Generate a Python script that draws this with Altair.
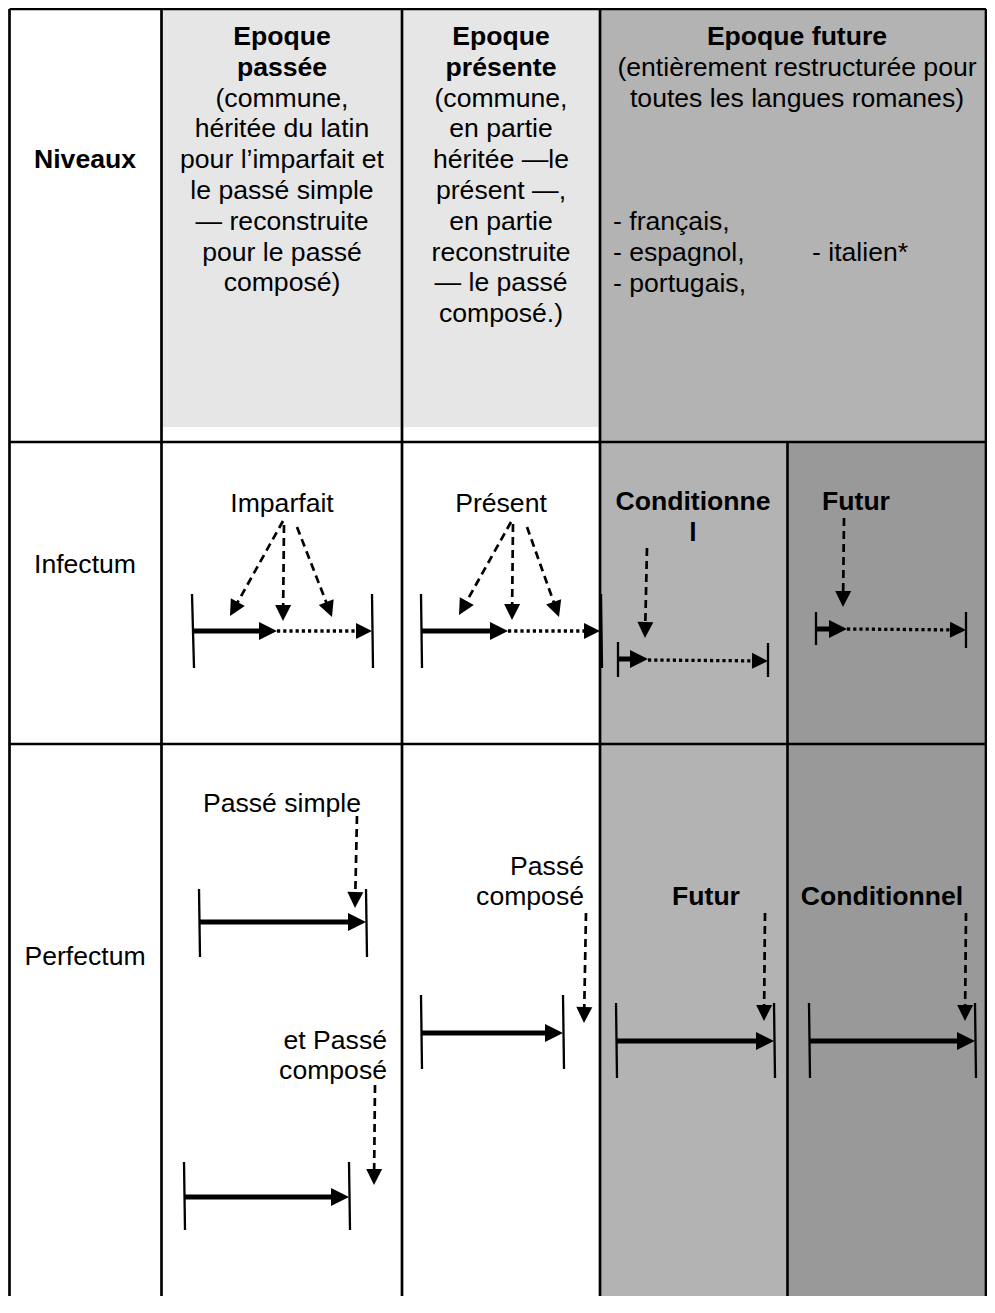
import altair as alt
import pandas as pd
import numpy as np

FONT = "Liberation Sans"
FS = 26.6

# ---------------- table structure (reference pixel units) ----------------
border_v = [9.5, 161.5, 402, 600, 986]      # full-height column borders
sub_border_x = 787.5                          # split of the future column (rows 2-3)
border_h = [9, 442, 744]                      # horizontal borders
table_left, table_right, table_bottom = 9.5, 986, 1313

# cell fills: (x, x2, y, y2, colour)
fills = [
    (163, 400.5, 9, 427, "#e6e6e6"),
    (403.5, 598.5, 9, 427, "#e6e6e6"),
    (601, 986, 9, 442, "#b3b3b3"),
    (601, 786.5, 442, 1313, "#b3b3b3"),
    (788.5, 986, 442, 1313, "#999999"),
]

# ---------------- texts ----------------
hdr_past = ["Epoque", "passée", "(commune,", "héritée du latin", "pour l’imparfait et",
            "le passé simple", "— reconstruite", "pour le passé", "composé)"]
hdr_present = ["Epoque", "présente", "(commune,", "en partie", "héritée —le",
               "présent —,", "en partie", "reconstruite", "— le passé", "composé.)"]
hdr_future = ["Epoque future", "(entièrement restructurée pour", "toutes les langues romanes)"]
langs_left = ["- français,", "- espagnol,", "- portugais,"]
lang_right = ["- italien*"]
row_labels = ["Infectum", "Perfectum"]

# ---------------- diagram elements: (x_start, y_start, x_tip, y_tip) ----------------
thick_arrows = [
    (193, 631, 277, 631),
    (421, 631, 508, 631),
    (619, 659, 648, 659),
    (817, 629, 847, 629),
    (200, 922, 366, 922),
    (185, 1197, 349, 1197),
    (421, 1033, 563, 1033),
    (616, 1041, 774, 1041),
    (809, 1041, 975, 1041),
]
dotted_arrows = [
    (277, 631, 372, 631),
    (508, 631, 600, 631),
    (648, 660, 768, 661),
    (847, 629, 966, 630),
]
dashed_arrows = [
    (283, 521, 230, 616),
    (284, 525, 283, 621),
    (297, 527, 332, 617),
    (511, 522, 459, 615),
    (513, 524, 512, 620),
    (527, 527, 559, 617),
    (647, 548, 645, 638),
    (844, 518, 843, 607),
    (357, 816, 355, 908),
    (375, 1085, 374, 1185),
    (586, 913, 584, 1023),
    (765, 913, 764, 1021),
    (966, 913, 965, 1021),
]
end_bars = [
    (192, 594, 194, 668), (372, 594, 373, 668),
    (421, 594, 422, 668), (601, 594, 602, 668),
    (618, 642, 618, 677), (768, 643, 768, 677),
    (816, 612, 816, 645), (966, 612, 966, 648),
    (199, 889, 200, 957), (366, 889, 367, 957),
    (184, 1162, 185, 1230), (349, 1162, 350, 1230),
    (421, 995, 422, 1069), (563, 995, 564, 1069),
    (616, 1003, 617, 1078), (774, 1003, 775, 1078),
    (809, 1003, 810, 1078), (975, 1003, 976, 1078),
]

# ---------------- build tables ----------------
X_DOM = [8, 987]
Y_DOM = [8, 1296]
W = X_DOM[1] - X_DOM[0]
H = Y_DOM[1] - Y_DOM[0]

xsc = alt.Scale(domain=X_DOM, nice=False, zero=False)
ysc = alt.Scale(domain=Y_DOM, nice=False, zero=False, reverse=True)


def enc_seg(ch):
    return ch.encode(
        x=alt.X("x:Q", scale=xsc, axis=None),
        y=alt.Y("y:Q", scale=ysc, axis=None),
        x2="x2:Q",
        y2="y2:Q",
    )


fill_df = pd.DataFrame(fills, columns=["x", "x2", "y", "y2", "fill"])

grid_rows = [(x, border_h[0], x, table_bottom) for x in border_v]
grid_rows.append((sub_border_x, border_h[1], sub_border_x, table_bottom))
grid_rows += [(table_left, y, table_right, y) for y in border_h]
grid_df = pd.DataFrame(grid_rows, columns=["x", "y", "x2", "y2"])

bars_df = pd.DataFrame(end_bars, columns=["x", "y", "x2", "y2"])

ARROW = "M0,0L-0.5,1L0.5,1Z"


def arrow_parts(segs, head_len):
    lines, heads = [], []
    for x0, y0, x1, y1 in segs:
        dx, dy = x1 - x0, y1 - y0
        n = np.hypot(dx, dy)
        ux, uy = dx / n, dy / n
        cut = head_len * 0.7
        lines.append((x0, y0, x1 - ux * cut, y1 - uy * cut))
        ang = (np.degrees(np.arctan2(dx, -dy)) + 360) % 360
        heads.append((x1, y1, float(ang), (2 * head_len) ** 2))
    return (pd.DataFrame(lines, columns=["x", "y", "x2", "y2"]),
            pd.DataFrame(heads, columns=["x", "y", "angle", "size"]))


thick_l, thick_h = arrow_parts(thick_arrows, 18)
dot_l, dot_h = arrow_parts(dotted_arrows, 16)
dash_l, dash_h = arrow_parts(dashed_arrows, 16)
heads_df = pd.concat([thick_h, dot_h, dash_h], ignore_index=True)

# text rows: (text, x, baseline y)
STEP = 30.8
bold_c, norm_c, norm_l, norm_r = [], [], [], []
for i, t in enumerate(hdr_past):
    (bold_c if i < 2 else norm_c).append((t, 282, 45 + i * STEP))
for i, t in enumerate(hdr_present):
    (bold_c if i < 2 else norm_c).append((t, 501, 45 + i * STEP))
for i, t in enumerate(hdr_future):
    (bold_c if i < 1 else norm_c).append((t, 797, 45 + i * STEP))
for i, t in enumerate(langs_left):
    norm_l.append((t, 613, 230 + i * STEP))
norm_l.append((lang_right[0], 812, 261))
bold_c.append(("Niveaux", 85, 168))
norm_c.append((row_labels[0], 85, 573))
norm_c.append((row_labels[1], 85, 965))
norm_c.append(("Imparfait", 282, 512))
norm_c.append(("Présent", 501, 512))
bold_c.append(("Conditionne", 693, 510))
bold_c.append(("l", 693, 541))
bold_c.append(("Futur", 856, 510))
norm_c.append(("Passé simple", 282, 812))
norm_r.append(("et Passé", 387, 1049))
norm_r.append(("composé", 387, 1079))
norm_r.append(("Passé", 584, 875))
norm_r.append(("composé", 584, 905))
bold_c.append(("Futur", 706, 905))
bold_c.append(("Conditionnel", 882, 905))


def text_layer(rows, align, weight):
    df = pd.DataFrame(rows, columns=["label", "x", "y"])
    return alt.Chart(df).mark_text(
        font=FONT, fontSize=FS, fontWeight=weight, align=align,
        baseline="alphabetic", color="black",
    ).encode(
        x=alt.X("x:Q", scale=xsc, axis=None),
        y=alt.Y("y:Q", scale=ysc, axis=None),
        text="label:N",
    )


fill_layer = alt.Chart(fill_df).mark_rect(clip=True).encode(
    x=alt.X("x:Q", scale=xsc, axis=None),
    x2="x2:Q",
    y=alt.Y("y:Q", scale=ysc, axis=None),
    y2="y2:Q",
    color=alt.Color("fill:N", scale=None),
)

grid_layer = enc_seg(alt.Chart(grid_df).mark_rule(color="black", strokeWidth=2.7, clip=True))
bars_layer = enc_seg(alt.Chart(bars_df).mark_rule(color="black", strokeWidth=2.3, clip=True))
thick_layer = enc_seg(alt.Chart(thick_l).mark_rule(color="black", strokeWidth=5, clip=True))
dot_layer = enc_seg(alt.Chart(dot_l).mark_rule(color="black", strokeWidth=3.3,
                                                 strokeDash=[3.2, 3], clip=True))
dash_layer = enc_seg(alt.Chart(dash_l).mark_rule(color="black", strokeWidth=2.7,
                                                   strokeDash=[8, 5], clip=True))

heads_layer = alt.Chart(heads_df).mark_point(
    shape=ARROW, filled=True, color="black", opacity=1, strokeWidth=0,
).encode(
    x=alt.X("x:Q", scale=xsc, axis=None),
    y=alt.Y("y:Q", scale=ysc, axis=None),
    angle=alt.Angle("angle:Q", scale=None),
    size=alt.Size("size:Q", scale=None),
)

chart = alt.layer(
    fill_layer, grid_layer, bars_layer, thick_layer, dot_layer, dash_layer, heads_layer,
    text_layer(bold_c, "center", "bold"),
    text_layer(norm_c, "center", "normal"),
    text_layer(norm_l, "left", "normal"),
    text_layer(norm_r, "right", "normal"),
).properties(
    width=W, height=H, padding=0, background="white",
    autosize=alt.AutoSizeParams(type="none"),
).configure_view(stroke=None)

chart.save("out.html", embed_options={"renderer": "svg", "actions": False})
